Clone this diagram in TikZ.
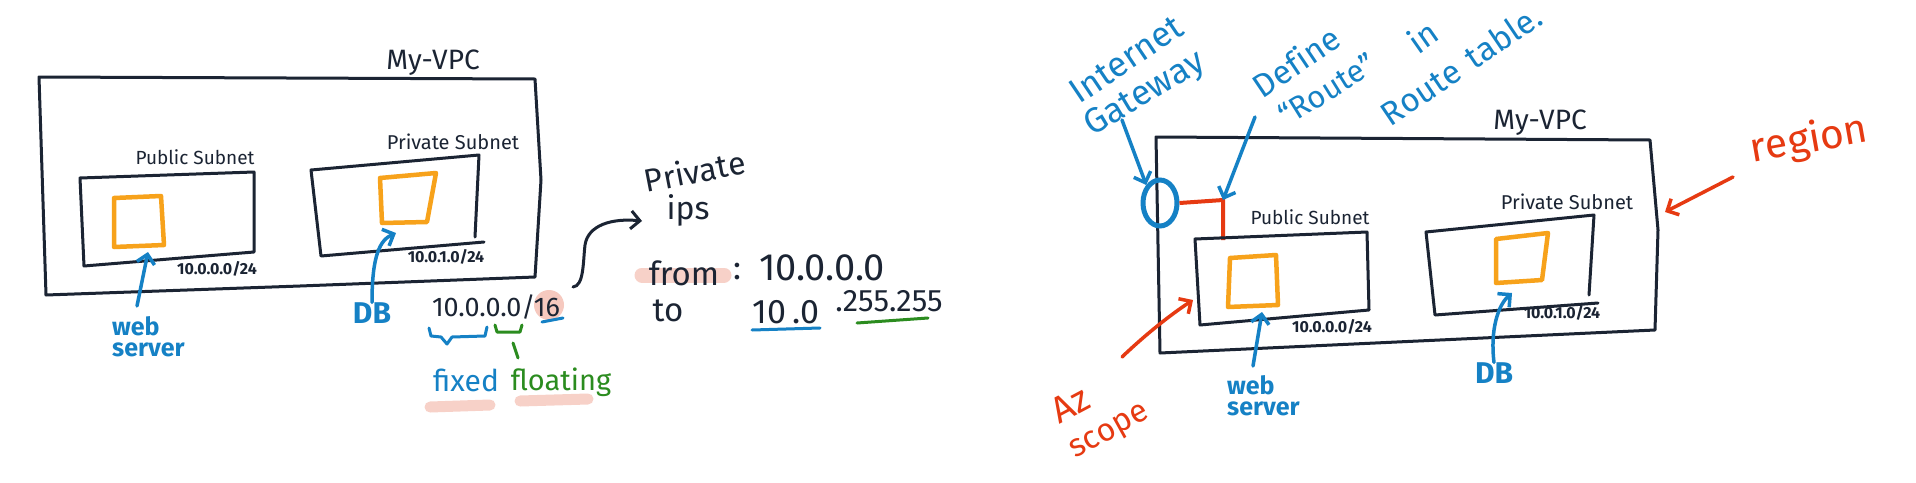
\documentclass[tikz,border=0pt]{standalone}
\usepackage{fontspec}
\setmainfont{Fira Sans}
\newfontfamily\slantfont[LetterSpace=12]{Fira Sans}
\usetikzlibrary{arrows.meta,shapes.geometric,decorations.text}
\definecolor{inkc}{HTML}{1B2433}
\definecolor{orgc}{HTML}{F7A21B}
\definecolor{bluc}{HTML}{1581C5}
\definecolor{grnc}{HTML}{2B8C1F}
\definecolor{redc}{HTML}{E63A12}
\definecolor{pnkc}{HTML}{F6C9BF}
\newcommand{\fsz}[1]{\fontsize{#1}{#1}\selectfont}
% slanted hand-written label: mid-baseline x, y, angle (ccw), colour, size, text
\newcommand{\slantlabel}[6]{%
  \path[decorate, decoration={text along path, text align=center, text color=#4, text={|\slantfont\fsz{#5}|#6}}]
    ([shift={(180-#3:170)}]#1,#2) -- ([shift={(-#3:170)}]#1,#2);}
\begin{document}
\begin{tikzpicture}[x=1pt,y=-1pt,
  inkline/.style={draw=inkc, line width=3pt, line join=round, line cap=round},
  orgbox/.style={draw=orgc, line width=4.5pt, line join=round},
  txt/.style={inner sep=0pt, text=inkc},
  bluetxt/.style={inner sep=0pt, text=bluc},
  greentxt/.style={inner sep=0pt, text=grnc},
  redtxt/.style={inner sep=0pt, text=redc},
  barb/.style={-{Straight Barb[length=9pt,width=18pt]}},
  bluearr/.style={draw=bluc, line width=3.5pt, line cap=round, barb},
  redarr/.style={draw=redc, line width=3.5pt, line cap=round, barb},
  inkarr/.style={draw=inkc, line width=3pt, line cap=round, barb},
  hilite/.style={draw=pnkc, line cap=round, opacity=0.85},
  bluemark/.style={draw=bluc, line width=3pt, line cap=round, line join=round},
  greenmark/.style={draw=grnc, line width=3pt, line cap=round, line join=round},
]
\useasboundingbox[fill=white] (0,0) rectangle (1916,482);

% ================= LEFT DIAGRAM =================
\draw[inkline] (39,77) -- (535,79) -- (541,180) -- (535,277) -- (300,286) -- (46,295) -- cycle;
\node[txt, font=\fsz{28}] (lvpc) at (433,63) {My-VPC};
% public subnet
\draw[inkline] (80,178) -- (254,172) -- (254,252) -- (84,266) -- cycle;
\node[txt, font=\fsz{19}] (lpub) at (195,157) {Public Subnet};
\draw[orgbox] (114,198) -- (161,196) -- (164,245) -- (114,247) -- cycle;
\coordinate (lwebtip) at (148,252);
\node[txt, font=\fsz{16}\bfseries] (lpubip) at (217,269) {10.0.0.0/24};
% private subnet
\draw[inkline] (484,242) -- (321,256) -- (311,170) -- (479,155) -- (475,237);
\node[txt, font=\fsz{20}] (lpriv) at (453,142) {Private Subnet};
\draw[orgbox] (380,178) -- (436,173) -- (427,222) -- (382,223) -- cycle;
\coordinate (ldbtip) at (396,233);
\node[txt, font=\fsz{16}\bfseries] (lprivip) at (446,257) {10.0.1.0/24};
% labels
\node[bluetxt, font=\fontsize{25}{21}\selectfont\bfseries, align=left, anchor=north west] (lweb) at (112,316) {web\\server};
\coordinate (lwebtail) at (137,306);
\draw[bluearr] (lwebtail) -- (lwebtip);
\node[bluetxt, font=\fsz{30}\bfseries] (ldb) at (372,313) {DB};
\draw[bluearr] (ldb.north) .. controls (372,255) and (380,240) .. (ldbtip);

% CIDR
\fill[pnkc] (549,305) circle (15);
\node[txt, font=\fsz{27}] (cidr) at (496,307) {10.0.0.0/16};
\draw[bluemark] (542,322) -- (563,318);
\draw[bluemark] (429,328) -- (431,336) -- (441,337) -- (447,344) -- (452,337) -- (485,336) -- (487,327);
\draw[greenmark] (495,325) -- (497,332) -- (520,332) -- (522,325);
\draw[greenmark] (513,343) -- (518,358);
\draw[hilite, line width=11pt] (430,407) -- (490,405);
\draw[hilite, line width=11pt] (520,401) -- (588,399);
\node[bluetxt, font=\fsz{30}] (fixed) at (466,380) {fixed};
\node[greentxt, font=\fsz{29}] (floating) at (561,382) {floating};

% curved arrow to private ips
\coordinate (ctail) at (573,287);
\slantlabel{697}{183}{11}{inkc}{32}{Private}
\node[txt, font=\fsz{32}] (ips) at (688,210) {ips};
\coordinate (chead) at (642,221);
\draw[inkarr] (ctail) .. controls (584,286) and (583,262) .. (585,245) .. controls (588,225) and (612,218) .. (chead);

\draw[hilite, line width=15pt] (642,275) -- (724,275);
\node[txt, font=\fsz{33}] (from) at (684,273) {from};
\node[txt, font=\fsz{33}] (colon) at (737,272) {:};
\node[txt, font=\fsz{38}] (fromip) at (822,268) {10.0.0.0};
\node[txt, font=\fsz{33}] (to) at (668,311) {to};
\node[txt, font=\fsz{34}] (toip) at (786,312) {10\,.0};
\node[txt, font=\fsz{31}] (toip2) at (889,301) {.255.255};
\draw[draw=bluc, line width=3pt, line cap=round] (752,330) -- (820,328);
\draw[greenmark] (857,323) -- (928,318);

% ================= RIGHT DIAGRAM =================
\draw[inkline] (1156,137) -- (1650,140) -- (1658,230) -- (1655,330) -- (1160,353) -- cycle;
\node[txt, font=\fsz{28}] (rvpc) at (1540,123) {My-VPC};
% internet gateway
\node[draw=bluc, line width=5pt, ellipse, minimum width=34pt, minimum height=46pt, inner sep=0pt] (igw) at (1160,203) {};
\coordinate (rtcorner) at (1223,200);
\coordinate (rtend) at (1223,240);
\draw[draw=redc, line width=4pt, line join=miter] (igw.east) -- (rtcorner) -- (rtend);
\slantlabel{1133}{69}{34}{bluc}{35}{Internet}
\slantlabel{1150}{102}{31}{bluc}{35}{Gateway}
\coordinate (gwtail) at (1122,120);
\draw[bluearr] (gwtail) -- (igw.north west);
\slantlabel{1303}{72}{34}{bluc}{33}{Define}
\slantlabel{1333}{99}{32}{bluc}{31}{“Route”}
\slantlabel{1430}{47}{35}{bluc}{33}{in}
\slantlabel{1468}{75}{34}{bluc}{33}{Route table.}
\coordinate (deftail) at (1255,117);
\draw[bluearr] (deftail) -- (rtcorner);
% public subnet
\draw[inkline] (1195,239) -- (1367,232) -- (1369,310) -- (1200,325) -- cycle;
\node[txt, font=\fsz{19}] (rpub) at (1310,217) {Public Subnet};
\draw[orgbox] (1230,258) -- (1276,255) -- (1278,305) -- (1228,307) -- cycle;
\node[txt, font=\fsz{16}\bfseries] (rpubip) at (1332,327) {10.0.0.0/24};
\coordinate (rwebtip) at (1262,312);
\node[bluetxt, font=\fontsize{25}{21}\selectfont\bfseries, align=left, anchor=north west] (rweb) at (1227,375) {web\\server};
\coordinate (rwebtail) at (1253,366);
\draw[bluearr] (rwebtail) -- (rwebtip);
% private subnet
\draw[inkline] (1598,303) -- (1435,315) -- (1426,232) -- (1594,215) -- (1589,295);
\node[txt, font=\fsz{20}] (rpriv) at (1567,202) {Private Subnet};
\draw[orgbox] (1496,239) -- (1548,233) -- (1542,280) -- (1496,283) -- cycle;
\node[txt, font=\fsz{16}\bfseries] (rprivip) at (1562,313) {10.0.1.0/24};
\coordinate (rdbtip) at (1512,293);
\node[bluetxt, font=\fsz{30}\bfseries] (rdb) at (1494,373) {DB};
\draw[bluearr] (rdb.north) .. controls (1490,330) and (1498,305) .. (rdbtip);
% AZ scope
\slantlabel{1076}{416}{28}{redc}{37}{Az}
\slantlabel{1113}{438}{29}{redc}{32}{scope}
\coordinate (aztail) at (1122,357);
\coordinate (aztip) at (1193,300);
\draw[redarr] (aztail) .. controls (1145,335) and (1170,315) .. (aztip);
% region
\slantlabel{1811}{152}{10}{redc}{41}{region}
\coordinate (regtail) at (1733,177);
\coordinate (regtip) at (1665,212);
\draw[redarr] (regtail) -- (regtip);
\end{tikzpicture}
\end{document}
